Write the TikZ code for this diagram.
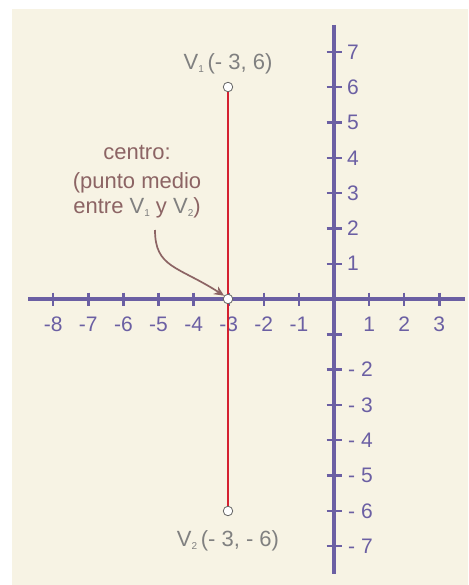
\documentclass[tikz,border=0pt]{standalone}
\usepackage{fontspec}
\setmainfont{Liberation Sans}
\usetikzlibrary{arrows.meta}
\definecolor{bgc}{HTML}{F7F3E4}
\definecolor{axc}{HTML}{6B5FA3}
\definecolor{redc}{HTML}{D42030}
\definecolor{greyc}{HTML}{808080}
\definecolor{brownc}{HTML}{8C6464}
\newcommand{\mysub}[1]{\raisebox{-2.5pt}{\fontsize{10}{10}\selectfont #1}}
\tikzset{
  axis/.style={axc, line width=3.8pt},
  tickmark/.style={axc, line width=2.4pt},
  axlab/.style={axc, font=\fontsize{21}{21}\selectfont, inner sep=0pt},
  ptlab/.style={greyc, font=\fontsize{22}{22}\selectfont, inner sep=0pt},
  notelab/.style={brownc, font=\fontsize{22}{22}\selectfont, inner sep=0pt},
  pt/.style={circle, draw=greyc!80!black, fill=white, line width=0.8pt, minimum size=9.5pt, inner sep=0pt},
  seg/.style={redc, line width=1.6pt},
  callout/.style={brownc, line width=1.7pt, -{Stealth[length=10pt,width=9pt]}}
}
\begin{document}
\begin{tikzpicture}[x=1pt,y=-1pt]
\useasboundingbox (0,0) rectangle (468,585);
\fill[bgc] (12,9) rectangle (468,585);
% axes
\coordinate (xl) at (28,299);
\coordinate (xr) at (465,299);
\coordinate (yt) at (334,25);
\coordinate (yb) at (334,574);
\draw[axis] (xl) -- (xr);
\draw[axis] (yt) -- (yb);
% x ticks and labels
\foreach \i/\lab in {-8/-8,-7/-7,-6/-6,-5/-5,-4/-4,-3/-3,-2/-2,-1/-1,1/1,2/2,3/3}{
  \draw[tickmark] ({334+35.1*\i},292.5) -- ({334+35.1*\i},305.5);
  \node[axlab] (xlab\i) at ({334+35.1*\i},324) {\lab};
}
% y ticks and labels
\foreach \j in {1,...,7}{
  \draw[tickmark] (326.5,{299-35.3*\j}) -- (341.5,{299-35.3*\j});
  \node[axlab, anchor=west] (ylab\j) at (347,{299-35.3*\j}) {\j};
}
\foreach \j in {1,...,7}{
  \draw[tickmark] (326.5,{299+35.3*\j}) -- (341.5,{299+35.3*\j});
}
\foreach \j in {2,...,7}{
  \node[axlab, anchor=west] (ylabn\j) at (348,{299+35.3*\j}) {- \j};
}
% segment and points
\coordinate (P1) at (228,87);
\coordinate (P2) at (228,511);
\coordinate (PC) at (228,299);
\draw[seg] (P1) -- (P2);
\node[pt] (v1) at (P1) {};
\node[pt] (c) at (PC) {};
\node[pt] (v2) at (P2) {};
% point labels
\node[ptlab] (v1lab) at (228,64) {V\mysub{1}\,(- 3, 6)};
\node[ptlab] (v2lab) at (228,541) {V\mysub{2}\,(- 3, - 6)};
% note
\node[notelab] (n1) at (137,152) {centro:};
\node[notelab] (n2) at (137,183) {(punto medio};
\node[notelab] (n3) at (137,208) {entre \textcolor{greyc}{V\mysub{1}} y \textcolor{greyc}{V\mysub{2}})};
\coordinate (as) at (155,230);
\draw[callout] (as) .. controls (155,268) and (178,266) .. (c.140);
\end{tikzpicture}
\end{document}
